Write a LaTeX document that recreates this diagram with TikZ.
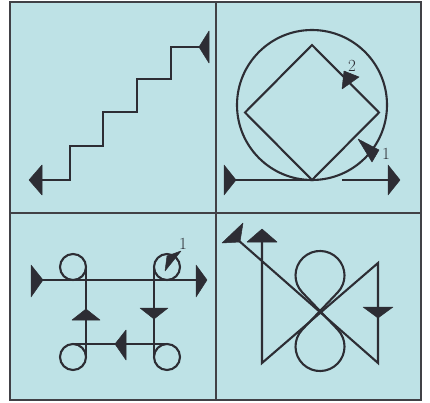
\documentclass[tikz,border=0pt]{standalone}
\usepackage{tikz}
\definecolor{ink}{RGB}{45,45,52}
\definecolor{bgblue}{RGB}{190,226,230}
\definecolor{frame}{RGB}{65,65,70}
\begin{document}
\begin{tikzpicture}[x=1pt,y=-1pt,
  ln/.style={draw=ink,line width=2.1pt,line join=miter},
  mk/.style={fill=ink,draw=ink,line width=0.5pt,line join=round},
  lbl/.style={text=ink,font=\fontsize{17}{17}\selectfont,inner sep=0pt}]
\useasboundingbox (0,0) rectangle (430,403);
\fill[white] (0,0) rectangle (430,403);
% frame
\filldraw[fill=bgblue,draw=frame,line width=2.5pt] (10,2) rectangle (421,400);
\draw[frame,line width=2.5pt] (216,2) -- (216,400);
\draw[frame,line width=2.5pt] (10,213) -- (421,213);

% ---------- panel 1: staircase ----------
\draw[ln] (200,47)--(171,47)--(171,79)--(137,79)--(137,112)--(103,112)--(103,146)--(70,146)--(70,180)--(38,180);
\filldraw[mk] (209,31)--(209,63)--(199,47)--cycle;
\filldraw[mk] (29,180)--(42,165)--(42,195)--cycle;

% ---------- panel 2: circle and diamond ----------
\draw[ln] (235,180)--(312,180);
\draw[ln] (312,105) circle[radius=75];
\draw[ln] (312,180)--(245,112.5)--(312,45)--(379,112.5)--cycle;
\draw[ln] (342,180)--(390,180);
\filldraw[mk] (224,165)--(224,195)--(236,180)--cycle;
\filldraw[mk] (400,180)--(388,165)--(388,195)--cycle;
\filldraw[mk] (344,71)--(359,77)--(342,89)--cycle;
\filldraw[mk] (358,139)--(379,150)--(372,162)--cycle;
\node[lbl] (two) at (352,66) {2};
\node[lbl] (oneA) at (386,154) {1};

% ---------- panel 3: loops ----------
\draw[ln] (42,280)--(197,280);
\draw[ln] (73,267) circle[radius=13];
\draw[ln] (167,267) circle[radius=13];
\draw[ln] (73,357) circle[radius=13];
\draw[ln] (167,357) circle[radius=13];
\draw[ln] (86,267)--(86,357);
\draw[ln] (154,267)--(154,357);
\draw[ln] (73,344)--(167,344);
\filldraw[mk] (31,265)--(31,297)--(43,280)--cycle;
\filldraw[mk] (207,280)--(196,265)--(196,297)--cycle;
\filldraw[mk] (140,308)--(168,308)--(154,319)--cycle;
\filldraw[mk] (86,309)--(100,320)--(72,320)--cycle;
\filldraw[mk] (115,344)--(126,330)--(126,360)--cycle;
\filldraw[mk] (167,256)--(181,251)--(165,271)--cycle;
\node[lbl] (oneB) at (183,244) {1};

% ---------- panel 4: figure eight ----------
\draw[ln] (238,240)--(378,363)--(378,263)--(262,363)--(262,242);
\draw[ln] (302.3,292.4) arc[start angle=136.3,end angle=403.7,radius=24.5]
  -- (302.3,329.6) arc[start angle=223.7,end angle=-43.7,radius=24.5] -- cycle;
\filldraw[mk] (222,243)--(243,223)--(240,242)--cycle;
\filldraw[mk] (262,229)--(277,242)--(247,242)--cycle;
\filldraw[mk] (363,307)--(393,307)--(378,318)--cycle;
\end{tikzpicture}
\end{document}
